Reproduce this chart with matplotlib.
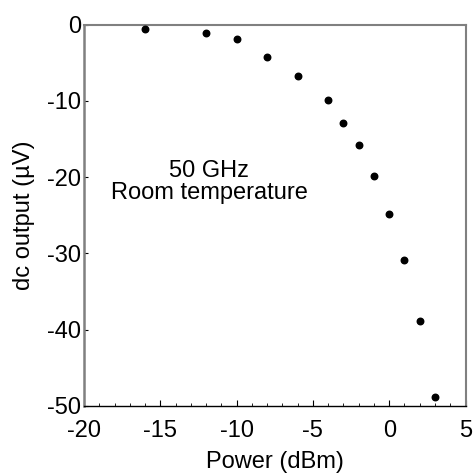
import matplotlib
matplotlib.use("Agg")
import matplotlib.pyplot as plt
from matplotlib.ticker import MultipleLocator

# Data
power_dbm = [-16, -12, -10, -8, -6, -4, -3, -2, -1, 0, 1, 2, 3]
dc_output_uv = [-0.55, -1.05, -1.85, -4.25, -6.8, -9.85, -12.85, -15.85,
                -19.8, -24.85, -30.9, -38.9, -48.8]

x_ticks = [-20, -15, -10, -5, 0, 5]
y_ticks = [0, -10, -20, -30, -40, -50]

plt.rcParams['font.family'] = ['Liberation Sans', 'DejaVu Sans']
plt.rcParams['font.size'] = 17

fig = plt.figure(figsize=(4.75, 4.73), dpi=100)
ax = fig.add_axes([0.177, 0.142, 0.803, 0.806])

ax.scatter(power_dbm, dc_output_uv, s=22, color='black', zorder=3)

ax.set_xlim(-20, 5)
ax.set_ylim(-50, 0)
ax.set_xticks(x_ticks)
ax.set_yticks(y_ticks)
ax.set_xticklabels([str(v) for v in x_ticks])
ax.set_yticklabels([str(v) for v in y_ticks])
ax.xaxis.set_minor_locator(MultipleLocator(1))

ax.tick_params(axis='x', which='major', direction='in', length=4, width=0.8,
               pad=10, labelsize=17)
ax.tick_params(axis='x', which='minor', direction='in', length=2, width=0.6)
ax.tick_params(axis='y', which='major', direction='in', length=3, width=0.8,
               pad=2, labelsize=17)

for side in ['left', 'top', 'right']:
    ax.spines[side].set_color('#808080')
ax.spines['left'].set_linewidth(1.8)
ax.spines['top'].set_linewidth(1.5)
ax.spines['right'].set_linewidth(1.5)
ax.spines['bottom'].set_color('black')
ax.spines['bottom'].set_linewidth(1.0)

ax.text(-11.8, -20.6, "50 GHz\nRoom temperature", ha='center', va='center',
        fontsize=17, linespacing=1.0)

ax.set_xlabel("Power (dBm)", fontsize=17, labelpad=7)
ax.set_ylabel("dc output (\u00b5V)", fontsize=17, labelpad=9)

fig.savefig("out.png", dpi=100)
